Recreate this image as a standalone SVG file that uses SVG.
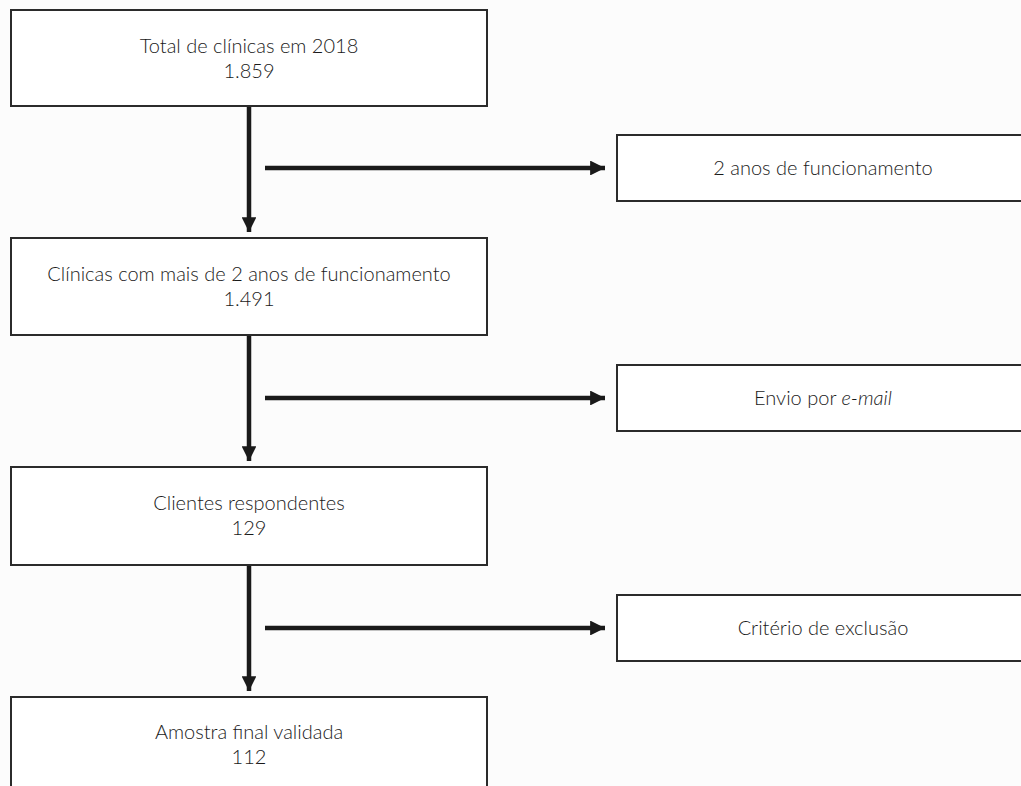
<svg xmlns="http://www.w3.org/2000/svg" width="1021" height="786" viewBox="0 0 1021 786">
<defs>
<style>
.box{fill:#fff;stroke:#2b2b2b;stroke-width:2}
.t{font-family:"Lato","Open Sans","Liberation Sans",sans-serif;font-weight:300;font-size:20px;fill:#1a1a1a;text-anchor:middle}
.c{stroke:#1a1a1a;stroke-width:4.5;fill:none}
</style>
<marker id="ah" viewBox="0 0 10 10" refX="10" refY="5" markerWidth="3.3" markerHeight="3.3" markerUnits="strokeWidth" orient="auto">
<path d="M0,0 L10,5 L0,10 Z" fill="#1a1a1a"/>
</marker>
</defs>
<rect width="1021" height="786" fill="#fcfcfc"/>
<g id="n1"><rect class="box" x="11" y="10" width="476" height="96"/><text class="t" x="249" y="53">Total de clínicas em 2018</text><text class="t" x="249" y="78">1.859</text></g>
<g id="n2"><rect class="box" x="11" y="238" width="476" height="97"/><text class="t" x="249" y="281">Clínicas com mais de 2 anos de funcionamento</text><text class="t" x="249" y="306">1.491</text></g>
<g id="n3"><rect class="box" x="11" y="467" width="476" height="98"/><text class="t" x="249" y="510">Clientes respondentes</text><text class="t" x="249" y="535">129</text></g>
<g id="n4"><rect class="box" x="11" y="697" width="476" height="100"/><text class="t" x="249" y="739">Amostra final validada</text><text class="t" x="249" y="764">112</text></g>
<g id="r1"><rect class="box" x="617" y="135" width="406" height="66"/><text class="t" x="823" y="175">2 anos de funcionamento</text></g>
<g id="r2"><rect class="box" x="617" y="365" width="406" height="66"/><text class="t" x="823" y="405">Envio por <tspan font-style="italic">e-mail</tspan></text></g>
<g id="r3"><rect class="box" x="617" y="595" width="406" height="66"/><text class="t" x="823" y="635">Critério de exclusão</text></g>
<g id="connectors">
<line class="c" x1="249" y1="107" x2="249" y2="232" marker-end="url(#ah)"/>
<line class="c" x1="249" y1="336" x2="249" y2="461" marker-end="url(#ah)"/>
<line class="c" x1="249" y1="566" x2="249" y2="691" marker-end="url(#ah)"/>
<line class="c" x1="265" y1="168" x2="605" y2="168" marker-end="url(#ah)"/>
<line class="c" x1="265" y1="398" x2="605" y2="398" marker-end="url(#ah)"/>
<line class="c" x1="265" y1="628" x2="605" y2="628" marker-end="url(#ah)"/>
</g>
</svg>
